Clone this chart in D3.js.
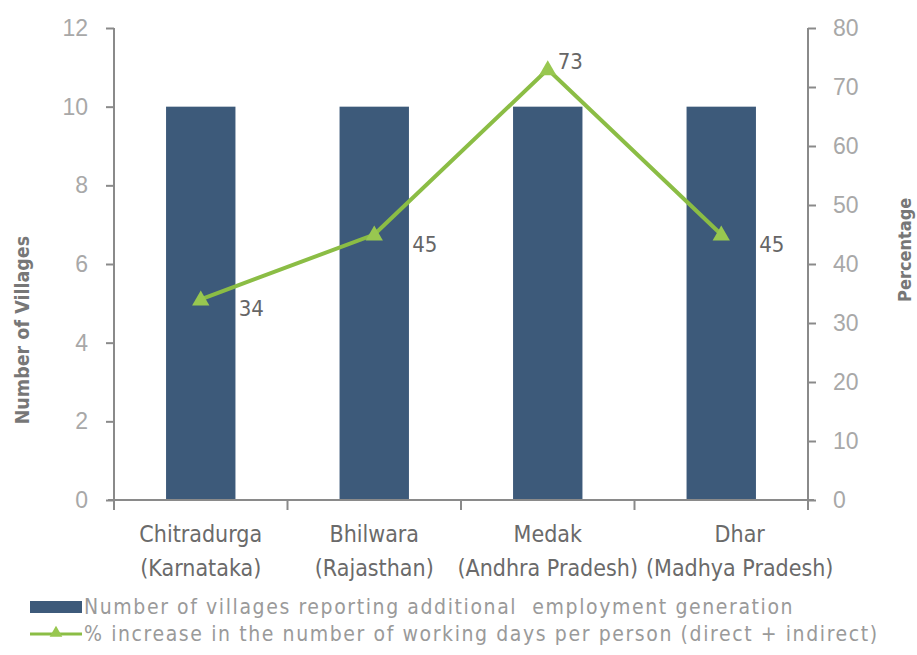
<!DOCTYPE html>
<html>
<head>
<meta charset="utf-8">
<script src="https://cdn.jsdelivr.net/npm/d3@7"></script>
<style>
  body { margin: 0; background: #fff; }
  svg { display: block; }
</style>
</head>
<body>
<script>
// chart data
const districts = ["Chitradurga", "Bhilwara", "Medak", "Dhar"];
const states = ["(Karnataka)", "(Rajasthan)", "(Andhra Pradesh)", "(Madhya Pradesh)"];
const villages = [10, 10, 10, 10];
const pctIncrease = [34, 45, 73, 45];
const leftTicks = [0, 2, 4, 6, 8, 10, 12];
const rightTicks = [0, 10, 20, 30, 40, 50, 60, 70, 80];
const legendLabels = [
  "Number of villages reporting additional  employment generation",
  "% increase in the number of working days per person (direct + indirect)"
];

const W = 917, H = 655;
const m = {top: 28, right: 109, bottom: 155, left: 114};
const iw = W - m.left - m.right, ih = H - m.top - m.bottom;

const barCol = "#3d5a7a", lineCol = "#8bbd45", axisCol = "#8a8a8a";
const condensed = "'DejaVu Sans Condensed', 'DejaVu Sans', sans-serif";
const narrow = "'Liberation Sans Narrow', 'Liberation Sans', sans-serif";

const svg = d3.select("body").append("svg")
  .attr("width", W).attr("height", H);
const g = svg.append("g").attr("transform", `translate(${m.left},${m.top})`);

const x = d3.scaleBand().domain(districts).range([0, iw]).padding(0);
const yL = d3.scaleLinear().domain([0, 12]).range([ih, 0]);
const yR = d3.scaleLinear().domain([0, 80]).range([ih, 0]);

// bars
const barW = x.bandwidth() * 0.4;
g.selectAll(".bar")
  .data(villages)
  .enter().append("rect")
  .attr("class", "bar")
  .attr("x", (d, i) => x(districts[i]) + x.bandwidth() / 2 - barW / 2)
  .attr("y", d => yL(d))
  .attr("width", barW)
  .attr("height", d => ih - yL(d))
  .attr("fill", barCol);

// left axis
const axL = g.append("g").call(d3.axisLeft(yL).tickValues(leftTicks).tickSize(8).tickSizeOuter(0).tickPadding(18));
axL.selectAll("text").attr("font-family", narrow).attr("font-size", 23).attr("fill", "#a8a8a8");

// right axis
const axR = g.append("g").attr("transform", `translate(${iw},0)`)
  .call(d3.axisRight(yR).tickValues(rightTicks).tickSize(8).tickSizeOuter(0).tickPadding(17));
axR.selectAll("text").attr("font-family", narrow).attr("font-size", 23).attr("fill", "#a8a8a8");

[axL, axR].forEach(a => {
  a.selectAll("line, path").attr("stroke", axisCol).attr("stroke-width", 2);
});
axL.select(".domain").remove();
axR.select(".domain").remove();
g.append("line").attr("x1", 0).attr("x2", 0).attr("y1", 0).attr("y2", ih + 10)
  .attr("stroke", axisCol).attr("stroke-width", 2);
g.append("line").attr("x1", iw).attr("x2", iw).attr("y1", 0).attr("y2", ih + 10)
  .attr("stroke", axisCol).attr("stroke-width", 2);

// bottom axis with boundary ticks
g.append("line").attr("x1", -6).attr("x2", iw + 6).attr("y1", ih).attr("y2", ih)
  .attr("stroke", axisCol).attr("stroke-width", 2);
const bounds = districts.map(d => x(d)).concat([iw]);
g.selectAll(".xtick")
  .data(bounds)
  .enter().append("line")
  .attr("x1", d => d).attr("x2", d => d)
  .attr("y1", ih).attr("y2", ih + 10)
  .attr("stroke", axisCol).attr("stroke-width", 2);

const cat = g.selectAll(".cat")
  .data(districts)
  .enter().append("text")
  .attr("class", "cat")
  .attr("text-anchor", "middle")
  .attr("font-family", condensed)
  .attr("font-size", 23)
  .attr("fill", "#6a6a6a")
  .attr("x", d => x(d) + x.bandwidth() / 2)
  .attr("y", ih + 42);
cat.append("tspan").text(d => d);
cat.append("tspan")
  .attr("x", d => x(d) + x.bandwidth() / 2)
  .attr("dy", 34)
  .text((d, i) => states[i]);

// push overlapping category labels to the right
let prevRight = -Infinity;
cat.each(function() {
  const b = this.getBBox();
  const shift = Math.max(0, prevRight + 8 - b.x);
  if (shift > 0) d3.select(this).attr("transform", `translate(${shift},0)`);
  prevRight = b.x + b.width + shift;
});

// line series
const pts = pctIncrease.map((v, i) => [x(districts[i]) + x.bandwidth() / 2, yR(v)]);
g.append("path")
  .attr("d", d3.line()(pts))
  .attr("fill", "none")
  .attr("stroke", lineCol)
  .attr("stroke-width", 4)
  .attr("stroke-linejoin", "miter");

const tri = d3.symbol().type(d3.symbolTriangle).size(130);
g.selectAll(".marker")
  .data(pts)
  .enter().append("path")
  .attr("d", tri)
  .attr("transform", d => `translate(${d[0]},${d[1] + 1})`)
  .attr("fill", "#98c750");

const maxV = d3.max(pctIncrease);
g.selectAll(".dlabel")
  .data(pctIncrease)
  .enter().append("text")
  .attr("font-family", condensed)
  .attr("font-size", 22)
  .attr("fill", "#666")
  .attr("x", (d, i) => pts[i][0] + (d === maxV ? 10 : 38))
  .attr("y", (d, i) => pts[i][1] + (d === maxV ? 0 : 17))
  .text(d => d);

// axis titles
svg.append("text")
  .attr("transform", `translate(29,${m.top + ih * 0.64}) rotate(-90)`)
  .attr("text-anchor", "middle")
  .attr("font-family", condensed)
  .attr("font-weight", "bold")
  .attr("font-size", 19.5)
  .attr("fill", "#777")
  .text("Number of Villages");

svg.append("text")
  .attr("transform", `translate(911,${m.top + ih * 0.47}) rotate(-90)`)
  .attr("text-anchor", "middle")
  .attr("font-family", condensed)
  .attr("font-weight", "bold")
  .attr("font-size", 18)
  .attr("fill", "#777")
  .text("Percentage");

// legend
const lg = svg.append("g").attr("transform", "translate(30,607)");
lg.append("rect").attr("x", 0).attr("y", -6).attr("width", 52).attr("height", 12).attr("fill", barCol);
lg.append("line").attr("x1", 0).attr("x2", 52).attr("y1", 27).attr("y2", 27)
  .attr("stroke", lineCol).attr("stroke-width", 3);
lg.append("path").attr("d", d3.symbol().type(d3.symbolTriangle).size(70))
  .attr("transform", "translate(26,26)").attr("fill", "#98c750");
lg.selectAll(".ltext")
  .data(legendLabels)
  .enter().append("text")
  .attr("x", 54)
  .attr("y", (d, i) => i * 27 + 7)
  .attr("font-family", condensed)
  .attr("font-size", 21)
  .attr("letter-spacing", 1.6)
  .attr("fill", "#9a9a9a")
  .style("white-space", "pre")
  .text(d => d);
</script>
</body>
</html>
